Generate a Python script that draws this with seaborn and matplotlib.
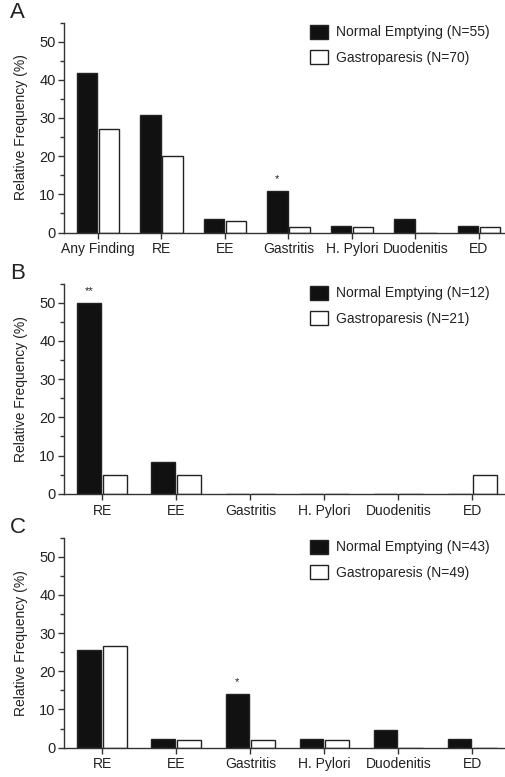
import numpy as np
import pandas as pd
import matplotlib
matplotlib.use('Agg')
import matplotlib.pyplot as plt
import seaborn as sns
from matplotlib.ticker import MultipleLocator

# data (relative frequency, %)
cats_a = ['Any Finding', 'RE', 'EE', 'Gastritis', 'H. Pylori', 'Duodenitis', 'ED']
normal_a = [41.8, 30.9, 3.6, 10.9, 1.8, 3.6, 1.8]
gastro_a = [27.1, 20.0, 2.9, 1.4, 1.4, 0.0, 1.4]

cats_bc = ['RE', 'EE', 'Gastritis', 'H. Pylori', 'Duodenitis', 'ED']
normal_b = [50.0, 8.3, 0.0, 0.0, 0.0, 0.0]
gastro_b = [4.8, 4.8, 0.0, 0.0, 0.0, 4.8]
normal_c = [25.6, 2.3, 14.0, 2.3, 4.7, 2.3]
gastro_c = [26.5, 2.0, 2.0, 2.0, 0.0, 0.0]

n_normal = [55, 12, 43]
n_gastro = [70, 21, 49]
panel_letters = ['A', 'B', 'C']
# significance marks on the normal-emptying bar
stars_a = {'Gastritis': '*'}
stars_b = {'RE': '**'}
stars_c = {'Gastritis': '*'}

sns.set_style('ticks')
plt.rcParams['font.family'] = ['Liberation Sans', 'DejaVu Sans']
TXT = '#222222'

fig = plt.figure(figsize=(5.06, 7.77), dpi=100)
W, H = 506, 777

# axes boxes in pixels: left, bottom(y of zero line), top
boxes = [(64, 232.5, 22.5), (64, 493.8, 283.5), (64, 747.7, 537.5)]
xlims = [(-0.535, 6.41), (-0.518, 5.44), (-0.518, 5.44)]
panels = [(cats_a, normal_a, gastro_a, stars_a),
          (cats_bc, normal_b, gastro_b, stars_b),
          (cats_bc, normal_c, gastro_c, stars_c)]

for k, (cats, nv, gv, stars) in enumerate(panels):
    left, y0, top = boxes[k]
    ax = fig.add_axes([left / W, 1 - y0 / H, (505 - left) / W, (y0 - top) / H])

    lab_n = f'Normal Emptying (N={n_normal[k]})'
    lab_g = f'Gastroparesis (N={n_gastro[k]})'
    df = pd.DataFrame({
        'finding': cats * 2,
        'freq': list(nv) + list(gv),
        'group': [lab_n] * len(cats) + [lab_g] * len(cats),
    })
    sns.barplot(data=df, x='finding', y='freq', hue='group',
                hue_order=[lab_n, lab_g], order=cats,
                palette=['#111111', 'white'], edgecolor='#222222',
                linewidth=1.0, width=0.7, gap=0.08, ax=ax)

    ax.set_ylim(0, 55)
    ax.set_xlim(*xlims[k])
    ax.yaxis.set_major_locator(MultipleLocator(10))
    ax.yaxis.set_minor_locator(MultipleLocator(5))
    ax.tick_params(axis='y', which='major', length=4, width=1, labelsize=10.5,
                   colors='#333333', labelcolor=TXT, pad=2)
    ax.tick_params(axis='y', which='minor', length=3, width=1, colors='#333333')
    ax.tick_params(axis='x', length=4, width=1, labelsize=10, colors='#333333',
                   labelcolor=TXT, pad=3)
    sns.despine(ax=ax)
    for s in ['left', 'bottom']:
        ax.spines[s].set_color('#333333')
        ax.spines[s].set_linewidth(1)
    ax.set_xlabel('')
    ax.set_ylabel('Relative Frequency (%)', fontsize=10, color=TXT, labelpad=8)

    # asterisks above the normal-emptying bar
    for cat, mark in stars.items():
        bar = ax.containers[0][cats.index(cat)]
        ax.text(bar.get_x() + bar.get_width() / 2, bar.get_height() + 1.8, mark,
                ha='center', va='bottom', fontsize=8, color=TXT)

    leg = ax.legend(loc='upper left', bbox_to_anchor=(0.558, 0.99),
                    frameon=False, fontsize=10, handlelength=1.3,
                    handleheight=1.2, handletextpad=0.6, labelspacing=0.75,
                    borderpad=0, borderaxespad=0)
    for t in leg.get_texts():
        t.set_color(TXT)

    fig.text(10 / W, 1 - (top - 10) / H, panel_letters[k], fontsize=16,
             color=TXT, va='center', ha='left')

fig.savefig('out.png', dpi=100, facecolor='white')
